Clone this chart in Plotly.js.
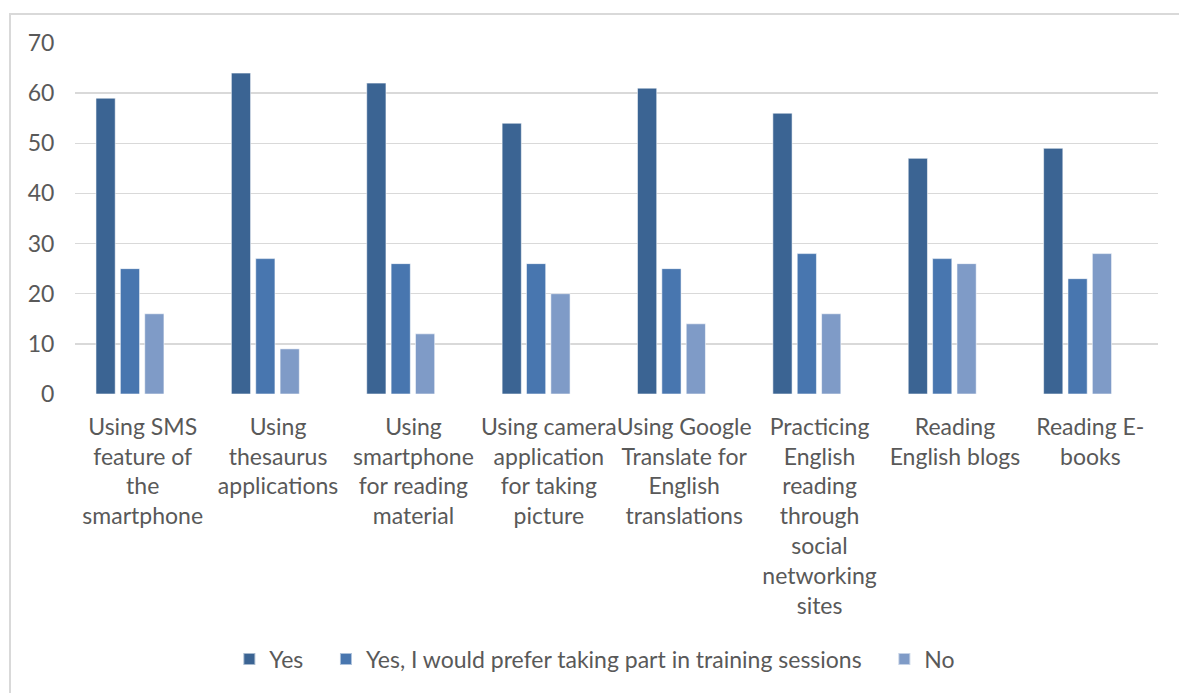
<!DOCTYPE html>
<html>
<head>
<meta charset="utf-8">
<script src="https://cdn.plot.ly/plotly-3.0.1.min.js"></script>
<style>
  html, body { margin: 0; padding: 0; background: #ffffff; overflow: hidden; }
  #frame { position: absolute; left: 9px; top: 13px; width: 1170px; height: 690px; border-left: 2px solid #D9D9D9; border-top: 2px solid #D9D9D9; box-sizing: border-box; pointer-events: none; }
  #chart { position: absolute; left: 0; top: 0; width: 1179px; height: 693px; }
</style>
</head>
<body>
<div id="chart"></div>
<div id="frame"></div>
<script>
const categories = [
  "Using SMS<br>feature of<br>the<br>smartphone",
  "Using<br>thesaurus<br>applications",
  "Using<br>smartphone<br>for reading<br>material",
  "Using camera<br>application<br>for taking<br>picture",
  "Using Google<br>Translate for<br>English<br>translations",
  "Practicing<br>English<br>reading<br>through<br>social<br>networking<br>sites",
  "Reading<br>English blogs",
  "Reading E-<br>books"
];
const seriesNames = ["Yes", "Yes, I would prefer taking part in training sessions", "No"];
const yesValues = [59, 64, 62, 54, 61, 56, 47, 49];
const trainingValues = [25, 27, 26, 26, 25, 28, 27, 23];
const noValues = [16, 9, 12, 20, 14, 16, 26, 28];
const yTicks = [0, 10, 20, 30, 40, 50, 60, 70];

const colors = ["#3B6493", "#4876AF", "#7F9BC7"];
const offsets = [-0.345, -0.165, 0.015];
const barWidth = 0.142;
const allValues = [yesValues, trainingValues, noValues];
const legendPad = "\u00a0\u00a0\u00a0";

const traces = allValues.map((vals, i) => ({
  type: "bar",
  name: i < 2 ? seriesNames[i] + legendPad : seriesNames[i],
  x: categories,
  y: vals,
  offset: offsets[i],
  width: barWidth,
  marker: { color: colors[i], line: { color: "rgba(255,255,255,0.55)", width: 1 } },
  hoverinfo: "y+name"
}));

const font = { family: "Lato, 'Liberation Sans', sans-serif", size: 23, color: "#595959" };

const layout = {
  width: 1179,
  height: 693,
  margin: { l: 75, r: 21, t: 43, b: 299, pad: 0 },
  paper_bgcolor: "#ffffff",
  plot_bgcolor: "#ffffff",
  font: font,
  barmode: "overlay",
  showlegend: true,
  legend: {
    orientation: "h",
    x: 0.48, xanchor: "center",
    y: -0.755, yanchor: "middle",
    font: font,
    itemwidth: 30,
    itemsizing: "constant",
    traceorder: "normal"
  },
  xaxis: {
    type: "category",
    range: [-0.5, 7.5],
    showgrid: false,
    showline: false,
    zeroline: false,
    ticks: "outside",
    ticklen: 12,
    tickcolor: "rgba(0,0,0,0)",
    tickangle: 0,
    tickfont: font,
    automargin: false
  },
  yaxis: {
    range: [0, 70],
    tickvals: yTicks,
    showgrid: true,
    gridcolor: "#D9D9D9",
    gridwidth: 1.5,
    zeroline: false,
    showline: false,
    ticks: "outside",
    ticklen: 15,
    tickcolor: "rgba(0,0,0,0)",
    tickfont: font,
    automargin: false
  }
};

Plotly.newPlot("chart", traces, layout, { displayModeBar: false, staticPlot: true });
</script>
</body>
</html>
